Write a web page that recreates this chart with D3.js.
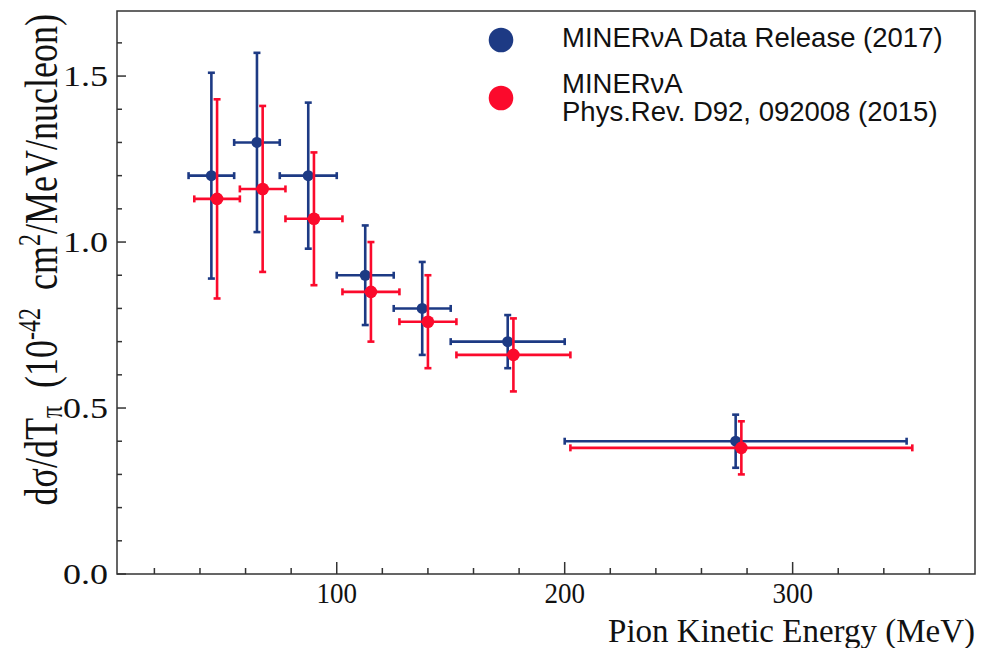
<!DOCTYPE html>
<html><head><meta charset="utf-8">
<script src="https://cdn.jsdelivr.net/npm/d3@7"></script>
<style>body{margin:0;background:#fff}svg{display:block}</style>
</head><body>
<svg id="c" width="983" height="648"></svg>
<script>
// ---- data ----
const blueX   = [45, 65, 87.5, 112.5, 137.5, 175, 275];
const blueXlo = [35, 55, 75, 100, 125, 150, 200];
const blueXhi = [55, 75, 100, 125, 150, 200, 350];
const blueY   = [1.20, 1.30, 1.20, 0.90, 0.80, 0.70, 0.40];
const blueErr = [0.31, 0.27, 0.22, 0.15, 0.14, 0.08, 0.08];

const redX    = [47.5, 67.5, 90, 115, 140, 177.5, 277.5];
const redXlo  = [37.5, 57.5, 77.5, 102.5, 127.5, 152.5, 202.5];
const redXhi  = [57.5, 77.5, 102.5, 127.5, 152.5, 202.5, 352.5];
const redY    = [1.13, 1.16, 1.07, 0.85, 0.76, 0.66, 0.38];
const redErr  = [0.30, 0.25, 0.20, 0.15, 0.14, 0.11, 0.08];

const xMajorTicks = [100, 200, 300];
const yMajorTicks = [0.0, 0.5, 1.0, 1.5];
const legendLabels = [["MINERνA Data Release (2017)"], ["MINERνA", "Phys.Rev. D92, 092008 (2015)"]];

// ---- layout ----
const L = 117, R = 975, T = 11, B = 574;
const BLUE = "#1d3a84", RED = "#fb0a2c";
const svg = d3.select("#c");
const x = d3.scaleLinear().domain([3.6, 380]).range([L, R]);
const y = d3.scaleLinear().domain([0, 1.696]).range([B, T]);

// frame
svg.append("rect").attr("x", L).attr("y", T).attr("width", R - L).attr("height", B - T)
  .attr("fill", "none").attr("stroke", "#333").attr("stroke-width", 1.5);

// x axis
const xMinor = d3.range(20, 380, 20).filter(v => !xMajorTicks.includes(v));
const xAxis = svg.append("g").attr("transform", `translate(0,${B})`);
xAxis.selectAll("line.mj").data(xMajorTicks).join("line").attr("class", "mj")
  .attr("x1", d => x(d)).attr("x2", d => x(d)).attr("y1", 0).attr("y2", -12)
  .attr("stroke", "#333").attr("stroke-width", 1.5);
xAxis.selectAll("line.mn").data(xMinor).join("line").attr("class", "mn")
  .attr("x1", d => x(d)).attr("x2", d => x(d)).attr("y1", 0).attr("y2", -6)
  .attr("stroke", "#333").attr("stroke-width", 1.5);
xAxis.selectAll("text").data(xMajorTicks).join("text")
  .attr("transform", d => `translate(${x(d)},29) scale(1,1.1)`).attr("text-anchor", "middle")
  .attr("font-family", "Liberation Serif").attr("font-size", 27).attr("fill", "#111")
  .text(d => d);

// y axis
const yMinor = d3.range(1, 17).map(i => i / 10).filter(v => Math.abs(v * 2 - Math.round(v * 2)) > 1e-6);
const yAxis = svg.append("g").attr("transform", `translate(${L},0)`);
yAxis.selectAll("line.mj").data(yMajorTicks).join("line").attr("class", "mj")
  .attr("y1", d => y(d)).attr("y2", d => y(d)).attr("x1", 0).attr("x2", 9)
  .attr("stroke", "#333").attr("stroke-width", 1.5);
yAxis.selectAll("line.mn").data(yMinor).join("line").attr("class", "mn")
  .attr("y1", d => y(d)).attr("y2", d => y(d)).attr("x1", 0).attr("x2", 5)
  .attr("stroke", "#333").attr("stroke-width", 1.5);
yAxis.selectAll("text").data(yMajorTicks).join("text")
  .attr("transform", d => `translate(-9,${y(d) + 10}) scale(1.2,1)`).attr("text-anchor", "end")
  .attr("font-family", "Liberation Serif").attr("font-size", 30).attr("fill", "#111")
  .text(d => d.toFixed(1));

// axis titles
svg.append("text").attr("x", R).attr("y", 642).attr("text-anchor", "end")
  .attr("font-family", "Liberation Serif").attr("font-size", 33).attr("fill", "#111")
  .text("Pion Kinetic Energy (MeV)");

const yt = svg.append("text").attr("transform", "translate(57,14) rotate(-90) scale(1,1.3)")
  .attr("text-anchor", "end").attr("font-family", "Liberation Serif")
  .attr("font-size", 36).attr("fill", "#111");
yt.append("tspan").text("dσ/dT");
yt.append("tspan").attr("font-size", 24).attr("dy", 4).text("π");
yt.append("tspan").attr("dy", -4).text("\u00a0\u00a0(10");
yt.append("tspan").attr("font-size", 24).attr("dy", -13).text("-42");
yt.append("tspan").attr("dy", 13).text("\u00a0\u00a0cm");
yt.append("tspan").attr("font-size", 24).attr("dy", -13).text("2");
yt.append("tspan").attr("dy", 13).text("/MeV/nucleon)");

// series
function drawSeries(xs, xlo, xhi, ys, err, color, r) {
  const g = svg.append("g").attr("stroke", color).attr("stroke-width", 2.6).attr("fill", color);
  const idx = d3.range(xs.length);
  const cap = 3.5;
  g.selectAll("line.h").data(idx).join("line").attr("class", "h")
    .attr("x1", i => x(xlo[i])).attr("x2", i => x(xhi[i]))
    .attr("y1", i => y(ys[i])).attr("y2", i => y(ys[i]));
  g.selectAll("line.hc1").data(idx).join("line")
    .attr("x1", i => x(xlo[i])).attr("x2", i => x(xlo[i]))
    .attr("y1", i => y(ys[i]) - cap).attr("y2", i => y(ys[i]) + cap);
  g.selectAll("line.hc2").data(idx).join("line")
    .attr("x1", i => x(xhi[i])).attr("x2", i => x(xhi[i]))
    .attr("y1", i => y(ys[i]) - cap).attr("y2", i => y(ys[i]) + cap);
  g.selectAll("line.v").data(idx).join("line").attr("class", "v")
    .attr("x1", i => x(xs[i])).attr("x2", i => x(xs[i]))
    .attr("y1", i => y(ys[i] - err[i])).attr("y2", i => y(ys[i] + err[i]));
  g.selectAll("line.vc1").data(idx).join("line")
    .attr("x1", i => x(xs[i]) - cap).attr("x2", i => x(xs[i]) + cap)
    .attr("y1", i => y(ys[i] - err[i])).attr("y2", i => y(ys[i] - err[i]));
  g.selectAll("line.vc2").data(idx).join("line")
    .attr("x1", i => x(xs[i]) - cap).attr("x2", i => x(xs[i]) + cap)
    .attr("y1", i => y(ys[i] + err[i])).attr("y2", i => y(ys[i] + err[i]));
  g.selectAll("circle").data(idx).join("circle")
    .attr("cx", i => x(xs[i])).attr("cy", i => y(ys[i])).attr("r", r).attr("stroke", "none");
}
drawSeries(blueX, blueXlo, blueXhi, blueY, blueErr, BLUE, 5.5);
drawSeries(redX, redXlo, redXhi, redY, redErr, RED, 6.3);

// legend
const leg = svg.append("g").attr("font-family", "Liberation Sans").attr("font-size", 27.5).attr("fill", "#111");
leg.append("circle").attr("cx", 501).attr("cy", 40).attr("r", 12.3).attr("fill", BLUE);
leg.append("circle").attr("cx", 501).attr("cy", 98).attr("r", 12.3).attr("fill", RED);
leg.append("text").attr("x", 562).attr("y", 47).text(legendLabels[0][0]);
leg.append("text").attr("x", 562).attr("y", 93).text(legendLabels[1][0]);
leg.append("text").attr("x", 562).attr("y", 121).text(legendLabels[1][1]);
</script>
</body></html>
